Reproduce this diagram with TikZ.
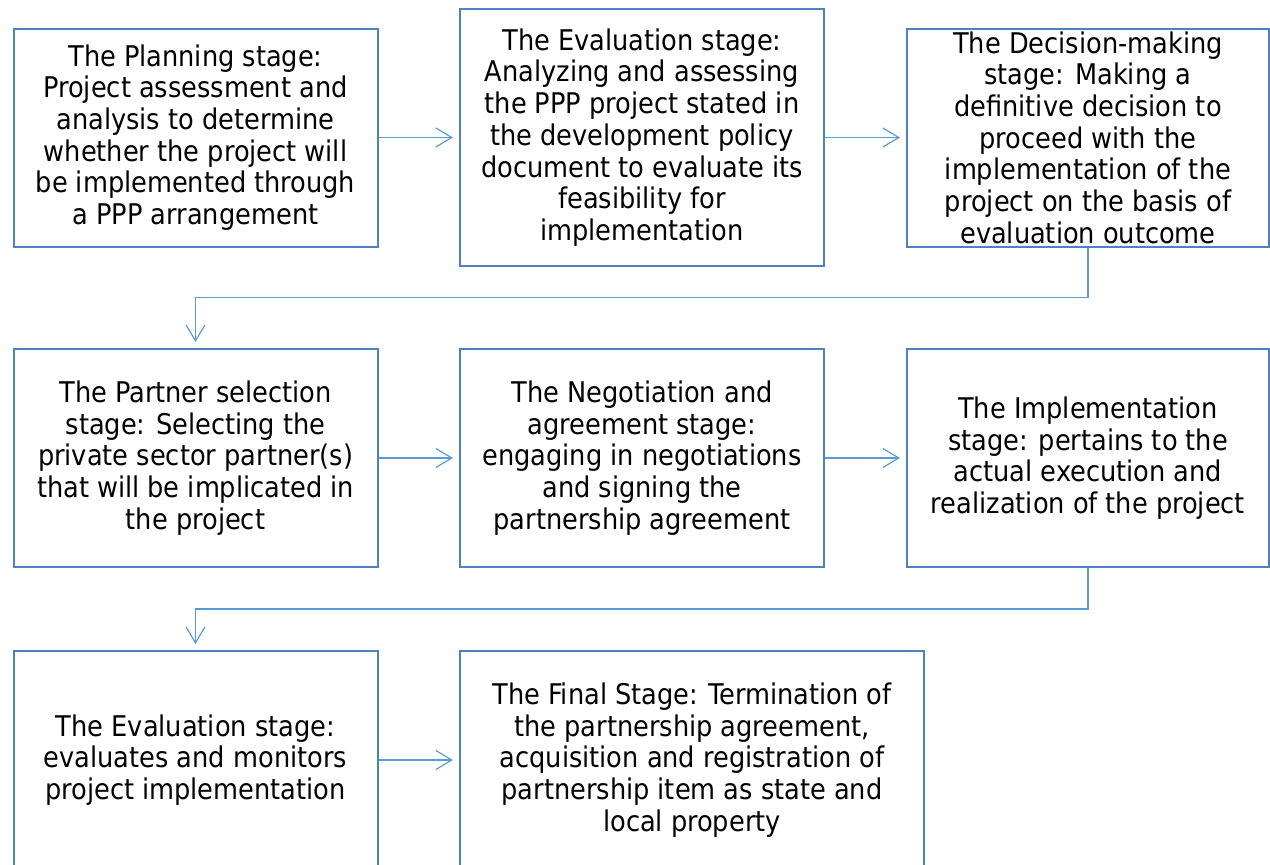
\documentclass[tikz,border=0pt]{standalone}
\usepackage{fontspec}
\setmainfont{DejaVu Sans Condensed}
\usetikzlibrary{arrows.meta,calc}
\definecolor{boxblue}{HTML}{4F81BD}
\definecolor{linkblue}{HTML}{5B9BD5}
\begin{document}
\begin{tikzpicture}[x=1pt,y=-1pt,
  stage/.style={draw=boxblue,line width=2pt,fill=white,rectangle,
    inner sep=0pt,align=center,text=black,
    font=\fontsize{28.5}{31.7}\selectfont},
  link/.style={draw=linkblue,line width=1.2pt,
    -{Straight Barb[length=16pt,width=19pt,line width=1.2pt]},
    shorten >=6pt}]
\useasboundingbox (0,0) rectangle (1270,865);

% first row
\node[stage,minimum width=364pt,minimum height=218pt] (b1) at (195.5,137.5)
  {The Planning stage:\\Project assessment and\\analysis to determine\\whether the project will\\be implemented through\\a PPP arrangement};
\node[stage,minimum width=364pt,minimum height=257pt] (b2) at (642,137.5)
  {The Evaluation stage:\\Analyzing and assessing\\the PPP project stated in\\the development policy\\document to evaluate its\\feasibility for\\implementation};
\node[stage,minimum width=362pt,minimum height=218pt] (b3) at (1088,137.5)
  {The Decision-making\\stage: Making a\\definitive decision to\\proceed with the\\implementation of the\\project on the basis of\\evaluation outcome};

% second row
\node[stage,minimum width=364pt,minimum height=218pt] (b4) at (195.5,458)
  {The Partner selection\\stage: Selecting the\\private sector partner(s)\\that will be implicated in\\the project};
\node[stage,minimum width=364pt,minimum height=218pt] (b5) at (642,458)
  {The Negotiation and\\agreement stage:\\engaging in negotiations\\and signing the\\partnership agreement};
\node[stage,minimum width=362pt,minimum height=218pt] (b6) at (1088,458)
  {The Implementation\\stage: pertains to the\\actual execution and\\realization of the project};

% third row (runs past the lower edge)
\node[stage,minimum width=364pt,minimum height=218pt] (b7) at (195.5,760)
  {The Evaluation stage:\\evaluates and monitors\\project implementation};
\node[stage,minimum width=464pt,minimum height=218pt] (b8) at (692,760)
  {The Final Stage: Termination of\\the partnership agreement,\\acquisition and registration of\\partnership item as state and\\local property};

% connectors
\draw[link] (b1.east) -- (b1.east -| b2.west);
\draw[link] (b2.east |- b3.west) -- (b3.west);
\draw[link] (b4) -- (b5);
\draw[link] (b5) -- (b6);
\draw[link] (b7.east) -- (b7.east -| b8.west);

\coordinate (k1) at ($(b3.south)!.5!(b4.north)$);
\coordinate (k2) at ($(b6.south)!.5!(b7.north)$);
\draw[link] (b3.south) |- (k1) -| (b4.north);
\draw[link] (b6.south) |- (k2) -| (b7.north);
\end{tikzpicture}
\end{document}
